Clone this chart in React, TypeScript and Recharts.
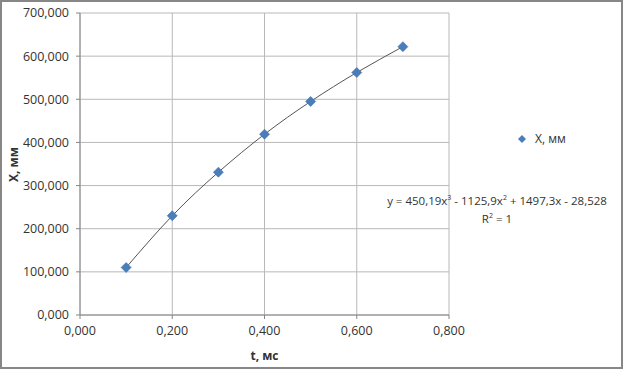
import React from 'react'
import { CartesianGrid, ComposedChart, Line, Scatter, XAxis, YAxis } from 'recharts'

// t, мс
const times = [0.1, 0.2, 0.3, 0.4, 0.5, 0.6, 0.7]
// X, мм
const distances = [110, 230, 331, 419, 495, 562, 622]

const xTicks = [0, 0.2, 0.4, 0.6, 0.8]
const yTicks = [0, 100, 200, 300, 400, 500, 600, 700]

const data = times.map((t, i) => ({ t, x: distances[i] }))

const FONT = '"Open Sans", "Liberation Sans", sans-serif'
const fmt = (v: number) => v.toFixed(3).replace('.', ',')

const Diamond = (props: any) => {
    const { cx, cy } = props
    const r = 5
    return (
        <polygon
            points={`${cx},${cy - r} ${cx + r},${cy} ${cx},${cy + r} ${cx - r},${cy}`}
            fill="#4a7ebb"
            stroke="#3f70aa"
            strokeWidth={0.6}
        />
    )
}

const App = () => {
    return (
        <div style={{ position: 'absolute', left: 0, top: 0, width: 623, height: 369, background: '#fff', fontFamily: FONT }}>
            <div style={{ position: 'absolute', inset: 0, border: '2px solid #878787', boxSizing: 'border-box', pointerEvents: 'none' }} />
            <ComposedChart width={623} height={369} data={data} margin={{ top: 13, right: 174, bottom: 0, left: 0 }}>
                <CartesianGrid stroke="#b8b8b8" strokeWidth={1} />
                <XAxis
                    dataKey="t"
                    type="number"
                    domain={[0, 0.8]}
                    ticks={xTicks}
                    tickFormatter={fmt}
                    height={54}
                    stroke="#868686"
                    tickSize={4}
                    tickMargin={7}
                    tick={{ fill: '#333', fontSize: 12.5, fontFamily: FONT }}
                    label={{ value: 't, мс', position: 'insideBottom', offset: 9, fill: '#333', fontSize: 12, fontWeight: 'bold', fontFamily: FONT }}
                />
                <YAxis
                    dataKey="x"
                    type="number"
                    domain={[0, 700]}
                    ticks={yTicks}
                    tickFormatter={fmt}
                    width={80}
                    stroke="#868686"
                    tickSize={4}
                    tickMargin={7}
                    tick={{ fill: '#333', fontSize: 12.5, fontFamily: FONT }}
                    label={{ value: 'X, мм', angle: -90, position: 'insideLeft', offset: 14, fill: '#333', fontSize: 12, fontWeight: 'bold', fontFamily: FONT, dy: 18 }}
                />
                <Line
                    dataKey="x"
                    type="natural"
                    stroke="#555"
                    strokeWidth={1}
                    dot={false}
                    activeDot={false}
                    isAnimationActive={false}
                />
                <Scatter dataKey="x" shape={Diamond} isAnimationActive={false} />
            </ComposedChart>
            <div style={{ position: 'absolute', left: 518, top: 130, display: 'flex', alignItems: 'center', fontSize: 12, color: '#333' }}>
                <svg width={8} height={8} style={{ marginRight: 9 }}>
                    <polygon points="4,0 8,4 4,8 0,4" fill="#4a7ebb" />
                </svg>
                <span>X, мм</span>
            </div>
            <div style={{ position: 'absolute', left: 377, top: 190, width: 240, textAlign: 'center', fontSize: 11.5, color: '#333', lineHeight: '15px' }}>
                <div>y = 450,19x<sup style={{ fontSize: 7 }}>3</sup> - 1125,9x<sup style={{ fontSize: 7 }}>2</sup> + 1497,3x - 28,528</div>
                <div>R<sup style={{ fontSize: 7 }}>2</sup> = 1</div>
            </div>
        </div>
    )
}

export default App
